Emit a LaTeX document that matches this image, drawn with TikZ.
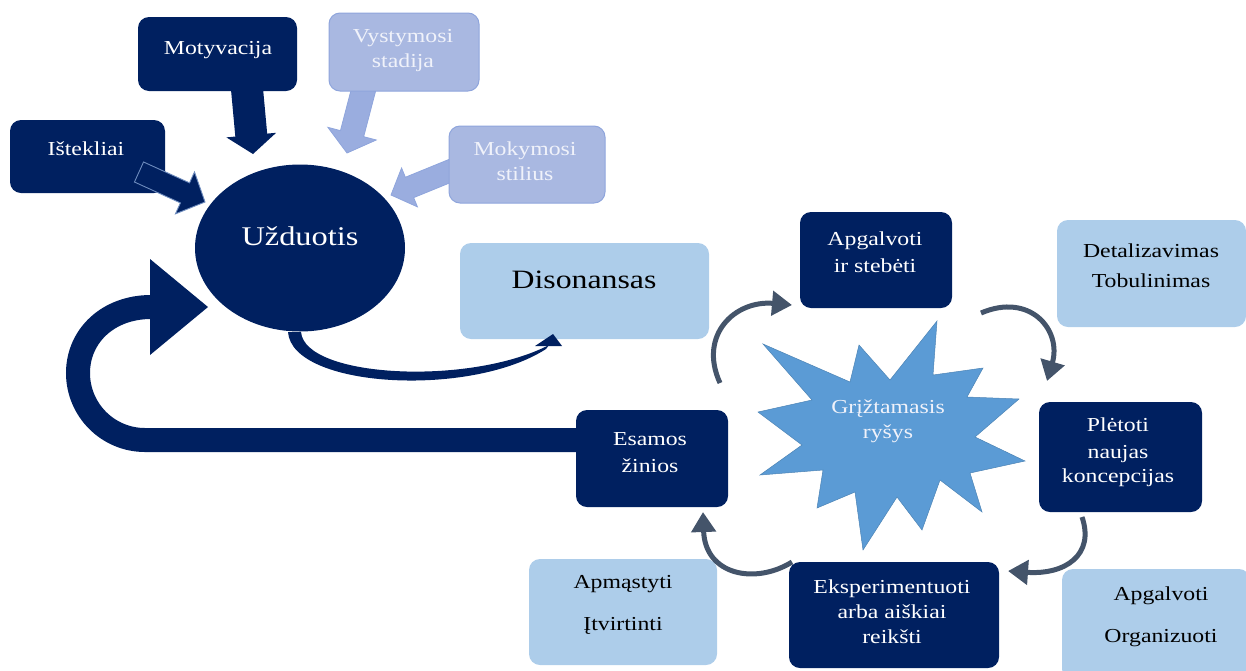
\documentclass[tikz,border=0pt]{standalone}
\usepackage{fontspec}
\setmainfont[FakeStretch=1.2]{Liberation Serif}
\usetikzlibrary{calc,arrows.meta,shapes.geometric}
\definecolor{navy}{HTML}{002060}
\definecolor{lblue}{HTML}{ADCDEA}
\definecolor{lpurp}{HTML}{A9B8E1}
\definecolor{purpb}{HTML}{8FA5DC}
\definecolor{parrow}{HTML}{9AADDF}
\definecolor{starb}{HTML}{5B9BD5}
\definecolor{cyc}{HTML}{44546A}
\definecolor{ptext}{HTML}{F0F2FA}
\definecolor{istline}{HTML}{6E8CBE}
\newcommand\blockarrow[6]{%
  \coordinate (hb) at ($(#3)!#6!(#2)$);
  \path[#1] ($(#2)!#4!90:(#3)$) -- ($(hb)!#4!90:(#3)$) -- ($(hb)!#5!90:(#3)$) -- (#3)
    -- ($(hb)!#5!-90:(#3)$) -- ($(hb)!#4!-90:(#3)$) -- ($(#2)!#4!-90:(#3)$) -- cycle;
}
\begin{document}
\begin{tikzpicture}[x=1pt,y=-1pt,
  box/.style={rectangle, rounded corners=11pt, inner sep=0pt},
  darkbox/.style={box, fill=navy},
  lightbox/.style={box, fill=lblue},
  purpbox/.style={box, fill=lpurp, draw=purpb, line width=1pt},
  wt/.style={text=white, font=\fontsize{19.8}{22}\selectfont, anchor=base, inner sep=0pt},
  pt/.style={wt, text=ptext},
  bt/.style={wt, text=black},
  cycarrow/.style={draw=cyc, line width=5pt, -{Triangle[length=20pt,width=24pt]}},
]
\useasboundingbox (0,0) rectangle (1246,670);

% arrows under the boxes
\coordinate (motS) at (247,89);
\coordinate (motE) at (253,154);
\coordinate (vysS) at (364,88);
\coordinate (vysE) at (347,153);
\coordinate (mokS) at (462,166);
\coordinate (mokE) at (391,195);
\blockarrow{fill=navy}{motS}{motE}{16pt}{25pt}{19pt}
\blockarrow{fill=parrow, draw=purpb, line width=0.8pt}{vysS}{vysE}{12pt}{25pt}{20pt}
\blockarrow{fill=parrow, draw=purpb, line width=0.8pt}{mokS}{mokE}{11pt}{21pt}{20pt}

% big return arrow
\coordinate (retS) at (580,440);
\coordinate (retA) at (145,440);
\coordinate (retB) at (78,373);
\coordinate (retC) at (151,307);
\coordinate (retT) at (208,307);
\draw[navy, line width=24pt] (retS) -- (retA) .. controls (108,440) and (78,410) .. (retB)
  .. controls (78,336) and (108,307) .. (retC);
\fill[navy] (150,259) -- (retT) -- (150,355) -- cycle;

% boxes
\node[darkbox, minimum width=155pt, minimum height=73pt] (ist) at (87.5,156.5) {};
\node[darkbox, minimum width=159pt, minimum height=74pt] (mot) at (217.5,54) {};
\node[purpbox, minimum width=150pt, minimum height=78pt] (vys) at (404,52) {};
\node[purpbox, minimum width=156pt, minimum height=77pt] (mok) at (527,164.5) {};
\node[ellipse, fill=navy, inner sep=0pt, minimum width=210pt, minimum height=167pt] (uzd) at (300,248) {};
\node[lightbox, minimum width=249pt, minimum height=96pt] (dis) at (584.5,291) {};
\node[darkbox, minimum width=152pt, minimum height=96pt] (apg) at (876,260) {};
\node[lightbox, minimum width=189pt, minimum height=107pt] (det) at (1151.5,273.5) {};
\node[darkbox, minimum width=163pt, minimum height=110pt] (ple) at (1120.5,457) {};
\node[darkbox, minimum width=152pt, minimum height=97pt] (esa) at (652,458.5) {};
\node[darkbox, minimum width=210pt, minimum height=106pt] (eks) at (894,615) {};
\node[lightbox, minimum width=188pt, minimum height=106pt] (apm) at (623,612) {};
\node[lightbox, minimum width=188pt, minimum height=111pt] (org) at (1156,624.5) {};

% Istekliai arrow (over its box)
\coordinate (istS) at (139,172);
\coordinate (istE) at (205,202);
\blockarrow{fill=navy, draw=istline, line width=0.9pt}{istS}{istE}{11pt}{23pt}{22pt}

% Uzduotis -> Disonansas tapered arrow
\coordinate (udS) at (294,334);
\coordinate (udE) at (553,334);
\fill[navy] (288,332) .. controls (292,388) and (470,398) .. (546,349)
  -- (549,345) .. controls (470,386) and (305,378) .. (301,332) -- cycle;
\fill[navy] (535,346) -- (udE) -- (562,346) -- cycle;

% star
\path[fill=starb, draw=starb!85!black, line width=0.5pt]
  (763,344) -- (850,382) -- (859,345) -- (890,380) -- (937,321) -- (933,375)
  -- (983,368) -- (967,397) -- (1019,399) -- (975,437) -- (1025,461) -- (970,473)
  -- (982,512) -- (940,480) -- (922,530) -- (897,497) -- (863,550) -- (855,492)
  -- (817,508) -- (823,470) -- (760,475) -- (802,445) -- (758,412) -- (812,400) -- cycle;
\coordinate (star) at (888,432);

% cycle arrows
\coordinate (cA1) at (720,383);
\coordinate (cA2) at (792,305);
\coordinate (cB1) at (981,313);
\coordinate (cB2) at (1047,381);
\coordinate (cC1) at (1082,517);
\coordinate (cC2) at (1008,571);
\coordinate (cD1) at (792,562);
\coordinate (cD2) at (703,512);
\draw[cycarrow] (cA1) .. controls (698,335) and (735,300) .. (cA2);
\draw[cycarrow] (cB1) .. controls (1030,292) and (1062,330) .. (cB2);
\draw[cycarrow] (cC1) .. controls (1095,555) and (1065,575) .. (cC2);
\draw[cycarrow] (cD1) .. controls (755,585) and (705,575) .. (cD2);

% texts
\node[wt] (tIst) at (86,155) {Ištekliai};
\node[wt] (tMot) at (218,54) {Motyvacija};
\node[pt] (tVys1) at (403,42) {Vystymosi};
\node[pt] (tVys2) at (403,67) {stadija};
\node[pt] (tMok1) at (525,155) {Mokymosi};
\node[pt] (tMok2) at (525,180) {stilius};
\node[wt, font=\fontsize{27}{30}\selectfont] (tUzd) at (300,245) {Užduotis};
\node[bt, font=\fontsize{26.5}{30}\selectfont] (tDis) at (584,288) {Disonansas};
\node[wt] (tApg1) at (875,245) {Apgalvoti};
\node[wt] (tApg2) at (875,272) {ir stebėti};
\node[bt] (tDet1) at (1151,257) {Detalizavimas};
\node[bt] (tDet2) at (1151,287) {Tobulinimas};
\node[wt] (tPle1) at (1118,431) {Plėtoti};
\node[wt] (tPle2) at (1118,458) {naujas};
\node[wt] (tPle3) at (1118,482) {koncepcijas};
\node[pt] (tStar1) at (888,413) {Grįžtamasis};
\node[pt] (tStar2) at (888,438) {ryšys};
\node[wt] (tEsa1) at (650,445) {Esamos};
\node[wt] (tEsa2) at (650,472) {žinios};
\node[wt] (tEks1) at (892,593) {Eksperimentuoti};
\node[wt] (tEks2) at (892,618) {arba aiškiai};
\node[wt] (tEks3) at (892,643) {reikšti};
\node[bt] (tApm1) at (623,588) {Apmąstyti};
\node[bt] (tApm2) at (623,630) {Įtvirtinti};
\node[bt] (tOrg1) at (1161,600) {Apgalvoti};
\node[bt] (tOrg2) at (1161,642) {Organizuoti};
\end{tikzpicture}
\end{document}
